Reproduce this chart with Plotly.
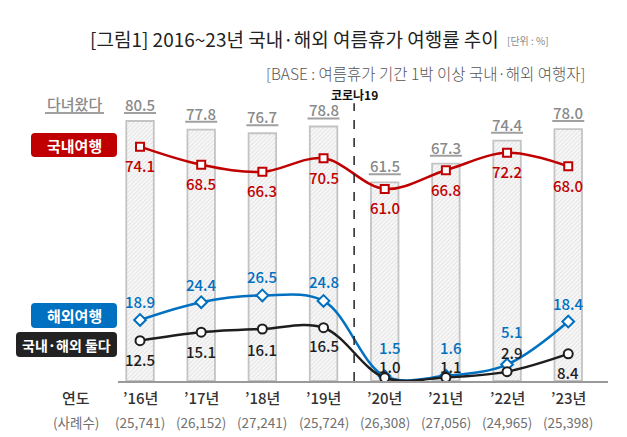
import plotly.graph_objects as go

# ---------------- data ----------------
years = ["’16년", "’17년", "’18년", "’19년", "’20년", "’21년", "’22년", "’23년"]
samples = ["(25,741)", "(26,152)", "(27,241)", "(25,724)", "(26,308)", "(27,056)", "(24,965)", "(25,398)"]
traveled = [80.5, 77.8, 76.7, 78.8, 61.5, 67.3, 74.4, 78.0]      # 다녀왔다
domestic = [74.1, 68.5, 66.3, 70.5, 61.0, 66.8, 72.2, 68.0]      # 국내여행
overseas = [18.9, 24.4, 26.5, 24.8, 1.5, 1.6, 5.1, 18.4]         # 해외여행
both = [12.5, 15.1, 16.1, 16.5, 1.0, 1.1, 2.9, 8.4]              # 국내·해외 둘다

# ---------------- style ----------------
FONT = "Noto Sans CJK KR"
RED, BLUE, BLACK, GRAY = "#c00000", "#0070c0", "#1e1e1e", "#8a8a8a"
W, H = 627, 437
L, R, T, B = 118, 608, 100, 381          # plot area in pixels
YMAX = 87.0
# label offsets in pixels (up positive)
dom_shift = [-19] * 8
ovs_shift = [18, 18, 19, 19, 29, 28, 33, 18]
both_shift = [-19, -19, -20, -18, 11, 11, 19, -19]
low_xshift = [0, 0, 0, 0, 5, 5, 5, 0]

idx = list(range(len(years)))


def px(xp):
    return (xp - L) / (R - L)


def py(yp):
    return (B - yp) / (B - T)


def rrect(x0, y0, x1, y1, r=4):
    X0, X1 = px(x0), px(x1)
    Y0, Y1 = py(y0), py(y1)   # Y0 top (higher), Y1 bottom
    rx, ry = r / (R - L), r / (B - T)
    return (f"M {X0+rx},{Y0} L {X1-rx},{Y0} Q {X1},{Y0} {X1},{Y0-ry} "
            f"L {X1},{Y1+ry} Q {X1},{Y1} {X1-rx},{Y1} L {X0+rx},{Y1} "
            f"Q {X0},{Y1} {X0},{Y1+ry} L {X0},{Y0-ry} Q {X0},{Y0} {X0+rx},{Y0} Z")


def pa(xp, yp, text, size, color, xanchor="center", weight=400):
    return dict(x=px(xp), y=py(yp), xref="paper", yref="paper", xanchor=xanchor, yanchor="middle",
                showarrow=False, text=text, font=dict(family=FONT, size=size, color=color, weight=weight))


fig = go.Figure()

fig.add_trace(go.Bar(
    x=idx, y=traveled, width=0.45,
    marker=dict(color="#f6f6f6", line=dict(color="#c4c4c4", width=1.8),
                pattern=dict(shape="/", fgcolor="#cfcfcf", bgcolor="#f8f8f8", size=3, solidity=0.35)),
    hoverinfo="skip", showlegend=False))

fig.add_trace(go.Scatter(
    x=idx, y=overseas, mode="lines+markers", line=dict(color=BLUE, width=2.5, shape="spline"),
    marker=dict(symbol="diamond", size=9, color="white", line=dict(color=BLUE, width=2)),
    showlegend=False))
fig.add_trace(go.Scatter(
    x=idx, y=both, mode="lines+markers", line=dict(color=BLACK, width=2.5, shape="spline"),
    marker=dict(symbol="circle", size=9, color="white", line=dict(color=BLACK, width=2)),
    showlegend=False))
fig.add_trace(go.Scatter(
    x=idx, y=domestic, yaxis="y2", mode="lines+markers", line=dict(color=RED, width=2.5, shape="spline"),
    marker=dict(symbol="square", size=8, color="white", line=dict(color=RED, width=2)),
    showlegend=False))

ann = []
shapes = []
NUMW = 500

# bar value labels with underline
for i, v in zip(idx, traveled):
    ann.append(dict(x=i, y=v, xref="x", yref="y", text=f"{v:.1f}", showarrow=False,
                    xanchor="center", yanchor="bottom", yshift=4,
                    font=dict(family=FONT, size=15, color=GRAY, weight=NUMW)))
    shapes.append(dict(type="line", xref="x", yref="y", xsizemode="pixel", ysizemode="pixel",
                       xanchor=i, yanchor=v, x0=-16, x1=16, y0=8, y1=8,
                       line=dict(color="#a0a0a0", width=2)))

for i, v in zip(idx, domestic):
    ann.append(dict(x=i, y=v, xref="x", yref="y2", text=f"{v:.1f}", showarrow=False,
                    xanchor="center", yanchor="middle", yshift=dom_shift[i],
                    font=dict(family=FONT, size=15, color=RED, weight=NUMW)))
for i, v in zip(idx, overseas):
    ann.append(dict(x=i, y=v, xref="x", yref="y", text=f"{v:.1f}", showarrow=False,
                    xanchor="center", yanchor="middle", yshift=ovs_shift[i], xshift=low_xshift[i],
                    font=dict(family=FONT, size=15, color=BLUE, weight=NUMW)))
for i, v in zip(idx, both):
    ann.append(dict(x=i, y=v, xref="x", yref="y", text=f"{v:.1f}", showarrow=False,
                    xanchor="center", yanchor="middle", yshift=both_shift[i], xshift=low_xshift[i],
                    font=dict(family=FONT, size=15, color=BLACK, weight=NUMW)))

# category labels
for i, (yr, n) in enumerate(zip(years, samples)):
    ann.append(dict(x=i, y=py(397), xref="x", yref="paper", text=yr, showarrow=False,
                    xanchor="center", yanchor="middle",
                    font=dict(family=FONT, size=15, color="#333333", weight=500)))
    ann.append(dict(x=i, y=py(422), xref="x", yref="paper", text=n, showarrow=False,
                    xanchor="center", yanchor="middle",
                    font=dict(family=FONT, size=13.5, color="#707070", weight=400)))
ann.append(pa(76, 397, "연도", 15, "#333333", weight=500))
ann.append(pa(76, 422, "(사례수)", 13.5, "#707070"))

# title etc.
ann.append(pa(88, 38, "[그림1] 2016~23년 국내·해외 여름휴가 여행률 추이", 19, "#222222", "left"))
ann.append(pa(505, 41, "[단위 : %]", 10, "#888888", "left"))
ann.append(pa(587, 73, "[BASE : 여름휴가 기간 1박 이상 국내·해외 여행자]", 15.5, "#555555", "right", 300))
ann.append(dict(x=3.5, y=py(95), xref="x", yref="paper", showarrow=False, text="<b>코로나19</b>",
                xanchor="center", yanchor="middle",
                font=dict(family=FONT, size=12, color="#111111")))

# left legend labels
ann.append(pa(74, 104, "다녀왔다", 15, GRAY, weight=500))
shapes.append(dict(type="line", xref="paper", yref="paper", x0=px(45), x1=px(104), y0=py(113), y1=py(113),
                   line=dict(color="#a0a0a0", width=2)))
for (x0, y0, x1, y1, col, txt, fs) in [
        (31, 133, 117, 157, RED, "국내여행", 15),
        (31, 303, 117, 328, BLUE, "해외여행", 15),
        (16, 332, 117, 357, "#222222", "국내·해외 둘다", 14)]:
    shapes.append(dict(type="path", xref="paper", yref="paper", path=rrect(x0, y0, x1, y1),
                       fillcolor=col, line=dict(width=0)))
    ann.append(pa((x0 + x1) / 2, (y0 + y1) / 2, f"<b>{txt}</b>", fs, "white"))

# covid divider
shapes.append(dict(type="line", xref="x", yref="y", x0=3.5, x1=3.5, y0=0, y1=86,
                   line=dict(color="#222222", width=1.5, dash="dash")))

fig.update_layout(
    width=W, height=H, margin=dict(l=L, r=W - R, t=T, b=H - B),
    paper_bgcolor="white", plot_bgcolor="white",
    font=dict(family=FONT),
    xaxis=dict(range=[-0.36, 7.65], showticklabels=False, showgrid=False, zeroline=False,
               showline=True, linecolor="#9a9a9a", linewidth=1.5, ticks=""),
    yaxis=dict(range=[0, YMAX], visible=False, showgrid=False, zeroline=False),
    yaxis2=dict(range=[1.55, YMAX + 1.55], overlaying="y", visible=False, showgrid=False, zeroline=False),
    annotations=ann, shapes=shapes, bargap=0.5, hovermode=False,
)

fig.write_html("out.html", config={"displayModeBar": False},
               post_script="document.body.style.margin='0';document.body.style.overflow='hidden';")
